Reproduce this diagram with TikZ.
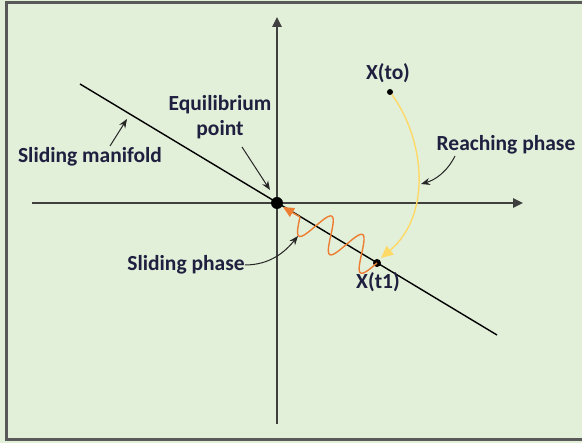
\documentclass[tikz,border=0pt]{standalone}
\usepackage{fontspec}
\setmainfont{Carlito}
\usetikzlibrary{arrows.meta,calc}
\definecolor{bgg}{HTML}{E2EFD9}
\definecolor{framec}{HTML}{595959}
\definecolor{axisc}{HTML}{3F3F3F}
\definecolor{orng}{HTML}{ED7D31}
\definecolor{ylw}{HTML}{FFD966}
\definecolor{txtc}{HTML}{1F1F3F}
\tikzset{
  lbl/.style={font=\fontsize{21.5}{25}\selectfont\bfseries, text=txtc, inner sep=0pt, align=center},
  axisline/.style={draw=axisc, line width=2.4pt, -{Triangle[length=10pt,width=9pt]}},
  callout/.style={draw=black!85, line width=1pt, -{Stealth[length=9pt,width=7pt]}},
  dotpt/.style={circle, fill=black, inner sep=0pt, minimum size=#1},
}
\begin{document}
\begin{tikzpicture}[x=1pt,y=-1pt]
\useasboundingbox (0,0) rectangle (582,443);
\fill[bgg] (0,0) rectangle (582,443);
\draw[framec, line width=3pt, fill=bgg] (6,3) rectangle (620,440);
% axes
\coordinate (xl) at (32,203);
\coordinate (xr) at (523,203);
\coordinate (yb) at (277,424);
\coordinate (yt) at (277,17);
\draw[axisline] (xl) -- (xr);
\draw[axisline] (yb) -- (yt);
% sliding manifold
\coordinate (ml) at (80,84);
\coordinate (mr) at (497,335);
\draw[black, line width=1.4pt] (ml) -- (mr);
% points
\node[dotpt=12pt] (eq) at (277,203) {};
\node[dotpt=8pt] (xt1) at (377,263) {};
\node[dotpt=6pt] (xt0) at (390,92) {};
% reaching phase (yellow)
\draw[ylw, line width=1.4pt, -{Triangle[length=12pt,width=11pt]}] (xt0) .. controls (425,140) and (432,215) .. (381,258);
% sliding phase wave (orange)
\draw[orng, line width=1.4pt, smooth] plot[domain=0:1, samples=120] ({377-77*\x + 0.513*(-17*sin(\x*900))}, {263-46*\x - 0.858*(-17*sin(\x*900))});
\coordinate (wend) at (300,217);
\coordinate (wtip) at (283,207);
\draw[orng, line width=1.4pt, -{Triangle[length=11pt,width=10pt]}] (wend) -- (wtip);
% labels
\node[lbl] (xt0l) at (388,73) {X(to)};
\node[lbl] (xt1l) at (378,282) {X(t1)};
\node[lbl] (rp) at (506,145) {Reaching phase};
\node[lbl] (eql) at (220,117) {Equilibrium\\point};
\node[lbl] (sm) at (90,157) {Sliding manifold};
\node[lbl] (sp) at (186,265) {Sliding phase};
% callouts
\draw[callout] (455,156) .. controls (447,172) and (435,180) .. (421,184);
\draw[callout] (242,147) -- (270,190);
\draw[callout] (110,146) -- (127,119);
\draw[callout] (sp.east) .. controls (270,265) and (285,252) .. (298,236);
\end{tikzpicture}
\end{document}
